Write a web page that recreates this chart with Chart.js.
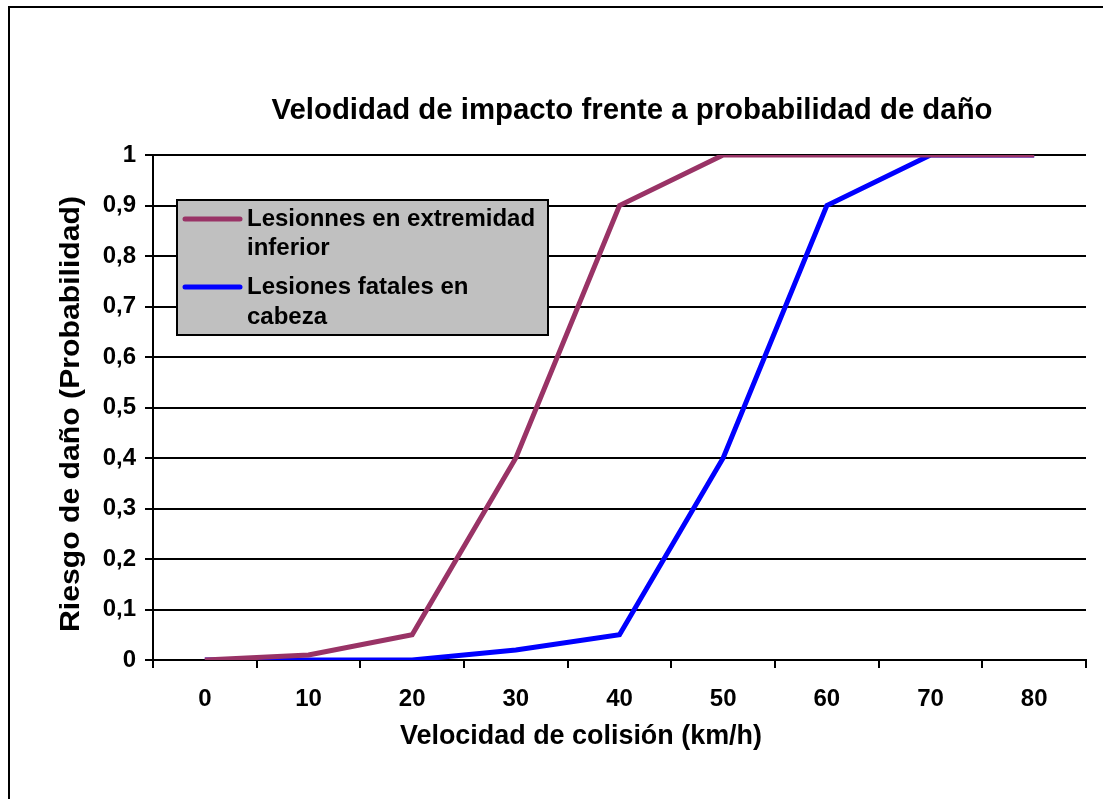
<!DOCTYPE html>
<html><head><meta charset="utf-8">
<script src="https://cdn.jsdelivr.net/npm/chart.js@4.4.1/dist/chart.umd.min.js"></script>
<style>html,body{margin:0;padding:0;background:#fff;}#wrap{width:1103px;height:799px;position:relative;}</style>
</head><body><div id="wrap"><canvas id="c" width="1103" height="799"></canvas></div>
<script>
const categories = ['0','10','20','30','40','50','60','70','80'];
const seriesNames = [['Lesionnes en extremidad','inferior'], ['Lesiones fatales en','cabeza']];
const lowerLimb = [0, 0.01, 0.05, 0.4, 0.9, 1, 1, 1, 1];
const fatalHead = [0, 0, 0, 0.02, 0.05, 0.4, 0.9, 1, 1];
const yTicks = ['0','0,1','0,2','0,3','0,4','0,5','0,6','0,7','0,8','0,9','1'];
const chartTitle = 'Velodidad de impacto frente a probabilidad de daño';
const xTitle = 'Velocidad de colisión (km/h)';
const yTitle = 'Riesgo de daño (Probabilidad)';
const colors = ['#993366', '#0000FF'];

const FONT = '"Liberation Sans", Arial, sans-serif';

function fitText(ctx, text, x, y, targetW) {
  const w = ctx.measureText(text).width;
  const s = targetW / w;
  ctx.save();
  ctx.translate(x, y);
  ctx.scale(s, 1);
  ctx.fillText(text, 0, 0);
  ctx.restore();
}

const decor = {
  id: 'decor',
  beforeDraw(chart) {
    const ctx = chart.ctx;
    ctx.save();
    ctx.fillStyle = '#fff';
    ctx.fillRect(0, 0, chart.width, chart.height);
    ctx.strokeStyle = '#000';
    ctx.lineWidth = 2;
    ctx.strokeRect(9, 7, chart.width + 20, chart.height + 20);
    ctx.restore();
  },
  afterDraw(chart) {
    const ctx = chart.ctx;
    ctx.save();
    ctx.fillStyle = '#000';
    ctx.textBaseline = 'middle';
    ctx.textAlign = 'center';
    ctx.font = 'bold 29px ' + FONT;
    fitText(ctx, chartTitle, 632, 111, 721);
    ctx.font = 'bold 27px ' + FONT;
    fitText(ctx, xTitle, 581, 737, 362);
    ctx.save();
    ctx.translate(71, 414);
    ctx.rotate(-Math.PI / 2);
    ctx.font = 'bold 28px ' + FONT;
    fitText(ctx, yTitle, 0, 0, 436);
    ctx.restore();
    // legend
    const lx = 177, ly = 200, lw = 371, lh = 135;
    ctx.fillStyle = '#C0C0C0';
    ctx.fillRect(lx, ly, lw, lh);
    ctx.strokeStyle = '#000';
    ctx.lineWidth = 2;
    ctx.strokeRect(lx, ly, lw, lh);
    ctx.font = 'bold 24px ' + FONT;
    ctx.textAlign = 'left';
    const rows = [[219, 248], [287, 317]];
    chart.data.datasets.forEach((ds, i) => {
      ctx.strokeStyle = ds.borderColor;
      ctx.lineWidth = 5;
      ctx.lineCap = 'round';
      ctx.beginPath();
      ctx.moveTo(185, rows[i][0]);
      ctx.lineTo(240, rows[i][0]);
      ctx.stroke();
      ctx.fillStyle = '#000';
      seriesNames[i].forEach((t, j) => ctx.fillText(t, 247, rows[i][j]));
    });
    ctx.restore();
  }
};

new Chart(document.getElementById('c'), {
  type: 'line',
  data: {
    labels: categories,
    datasets: [
      { label: seriesNames[0].join(' '), data: lowerLimb, borderColor: colors[0], backgroundColor: colors[0], borderWidth: 5, pointRadius: 0, tension: 0 },
      { label: seriesNames[1].join(' '), data: fatalHead, borderColor: colors[1], backgroundColor: colors[1], borderWidth: 5, pointRadius: 0, tension: 0 }
    ]
  },
  options: {
    responsive: false,
    animation: false,
    devicePixelRatio: 1,
    layout: { padding: { left: 0, top: 155, right: 17, bottom: 0 } },
    plugins: { legend: { display: false }, title: { display: false }, tooltip: { enabled: false } },
    scales: {
      x: {
        type: 'category',
        offset: true,
        grid: { offset: true, drawOnChartArea: false, drawTicks: true, tickLength: 8, color: '#000', lineWidth: 2 },
        border: { display: true, color: '#000', width: 2 },
        ticks: { color: '#000', font: { family: FONT, size: 24, weight: 'bold' }, padding: 17, maxRotation: 0 },
        afterFit(s) { s.height = 799 - 660; }
      },
      y: {
        min: 0, max: 1,
        ticks: { stepSize: 0.1, color: '#000', font: { family: FONT, size: 24, weight: 'bold' }, padding: 9,
          callback: (v, i) => yTicks[i] },
        grid: { color: '#000', lineWidth: 2, tickLength: 8, drawTicks: true },
        border: { display: true, color: '#000', width: 2 },
        afterFit(s) { s.width = 153; }
      }
    }
  },
  plugins: [decor]
});
</script></body></html>
